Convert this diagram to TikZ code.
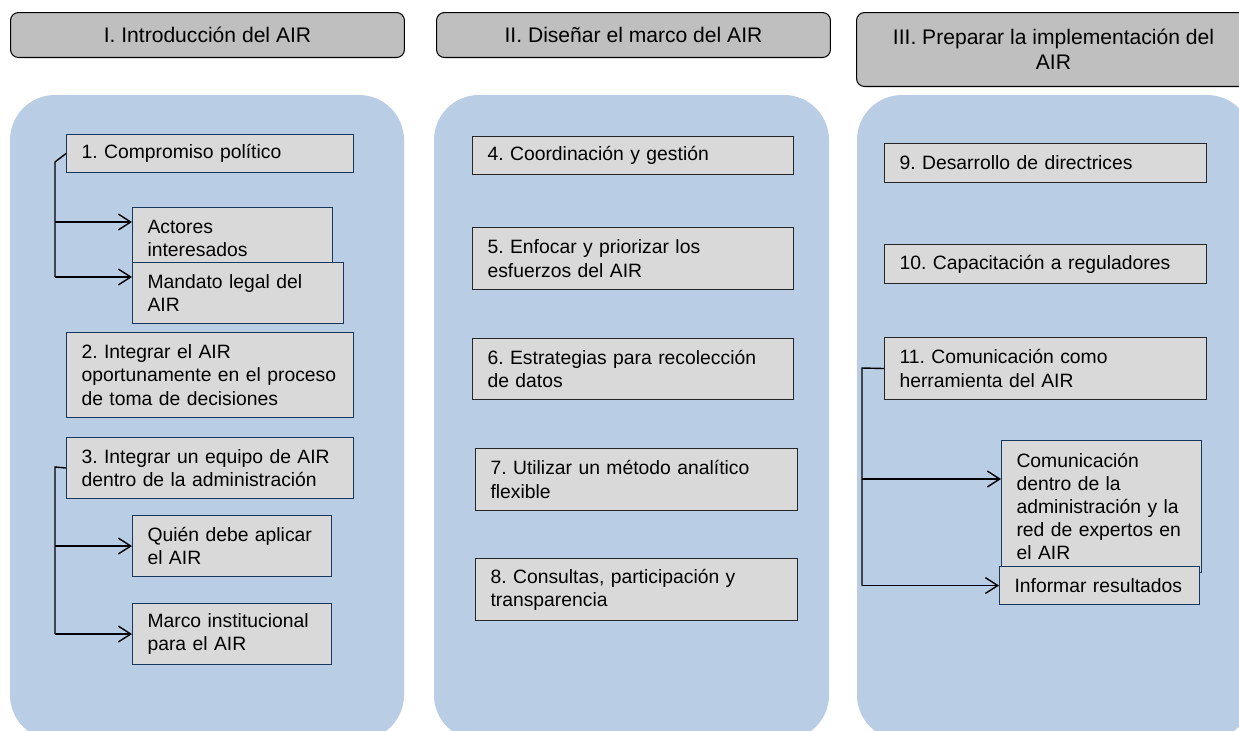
\documentclass[tikz,border=0pt]{standalone}
\usepackage{fontspec}
\setmainfont{Liberation Sans}
\usetikzlibrary{arrows.meta}
\definecolor{panelazul}{RGB}{185,205,229}
\definecolor{grisfase}{RGB}{191,191,191}
\definecolor{grispaso}{RGB}{217,217,217}
\definecolor{bordeazul}{RGB}{23,55,94}
\definecolor{bordegris}{RGB}{38,38,38}
\frenchspacing

\begin{document}
\begin{tikzpicture}[
    x=0.02cm, y=-0.02cm,
    fase/.style={rectangle, draw, rounded corners=0.16cm, fill=grisfase, line width=0.6pt, anchor=north west, minimum width=7.88cm, align=center, font=\fontsize{12}{14}\selectfont},
    panel/.style={fill=panelazul, rounded corners=0.9cm},
    paso/.style={rectangle, draw=bordegris, fill=grispaso, line width=0.6pt, anchor=north west, align=left, inner xsep=0.3cm, inner ysep=0pt, font=\fontsize{11}{13.2}\selectfont},
    subpaso/.style={paso, draw=bordeazul},
    rama/.style={line width=0.8pt},
    flecha/.style={rama, -{Straight Barb[length=7pt,width=9pt]}}
]
\useasboundingbox (0,0) rectangle (1239,730);
\clip (0,0) rectangle (1239,730);

% Fases
\node[fase, minimum height=0.9cm] (fase1) at (10,12) {I. Introducción del AIR};
\node[fase, minimum height=0.9cm] (fase2) at (436,12) {II. Diseñar el marco del AIR};
\node[fase, minimum height=1.48cm] (fase3) at (856,12) {III. Preparar la implementación del\\AIR};

% Paneles
\fill[panel] (10,95) rectangle (404,740);
\fill[panel] (434,95) rectangle (829,740);
\fill[panel] (857,95) rectangle (1252,740);

% Fase I
\node[subpaso, text width=5.14cm, minimum height=0.76cm] (p1) at (66,134) {1. Compromiso político};
\node[subpaso, text width=3.4cm, minimum height=1.24cm] (actores) at (132,207) {Actores\\interesados};
\node[subpaso, text width=3.62cm, minimum height=1.22cm] (mandato) at (132,262) {Mandato legal del\\AIR};
\node[subpaso, text width=5.14cm, minimum height=1.7cm] (p2) at (66,332) {2. Integrar el AIR\\oportunamente en el proceso\\de toma de decisiones};
\node[subpaso, text width=5.14cm, minimum height=1.22cm] (p3) at (66,437) {3. Integrar un equipo de AIR\\dentro de la administración};
\node[subpaso, text width=3.38cm, minimum height=1.22cm] (quien) at (132,515) {Quién debe aplicar\\el AIR};
\node[subpaso, text width=3.38cm, minimum height=1.22cm] (marco) at (132,603) {Marco institucional\\para el AIR};

\coordinate (r1) at (55,162);
\coordinate (r1a) at (55,222);
\coordinate (r1b) at (55,277);
\draw[rama] (p1.west) -- (r1) -- (r1b);
\draw[flecha] (r1a) -- (r1a -| actores.west);
\draw[flecha] (r1b) -- (r1b -| mandato.west);

\coordinate (r3) at (55,467);
\draw[rama] (p3.west) -- (r3) -- (r3 |- marco.west);
\draw[flecha] (r3 |- quien.west) -- (quien.west);
\draw[flecha] (r3 |- marco.west) -- (marco.west);

% Fase II
\node[paso, text width=5.82cm, minimum height=0.76cm] (p4) at (472,136) {4. Coordinación y gestión};
\node[paso, text width=5.82cm, minimum height=1.24cm] (p5) at (472,227) {5. Enfocar y priorizar los\\esfuerzos del AIR};
\node[paso, text width=5.82cm, minimum height=1.22cm] (p6) at (472,338) {6. Estrategias para recolección\\de datos};
\node[paso, text width=5.84cm, minimum height=1.24cm] (p7) at (475,448) {7. Utilizar un método analítico\\flexible};
\node[paso, text width=5.84cm, minimum height=1.24cm] (p8) at (475,558) {8. Consultas, participación y\\transparencia};

% Fase III
\node[paso, text width=5.84cm, minimum height=0.78cm] (p9) at (884,143) {9. Desarrollo de directrices};
\node[paso, text width=5.84cm, minimum height=0.78cm] (p10) at (884,244) {10. Capacitación a reguladores};
\node[paso, text width=5.84cm, minimum height=1.24cm] (p11) at (884,337) {11. Comunicación como\\herramienta del AIR};
\node[subpaso, text width=3.4cm, minimum height=2.64cm] (dentro) at (1001,440) {Comunicación\\dentro de la\\administración y la\\red de expertos en\\el AIR};
\node[subpaso, text width=3.4cm, minimum height=0.76cm] (informar) at (999,566) {Informar resultados};

\coordinate (r11) at (862,368);
\coordinate (r11a) at (862,479);
\draw[rama] (p11.west) -- (r11) -- (r11 |- informar.west);
\draw[flecha] (r11a) -- (r11a -| dentro.west);
\draw[flecha] (r11 |- informar.west) -- (informar.west);

\end{tikzpicture}
\end{document}
